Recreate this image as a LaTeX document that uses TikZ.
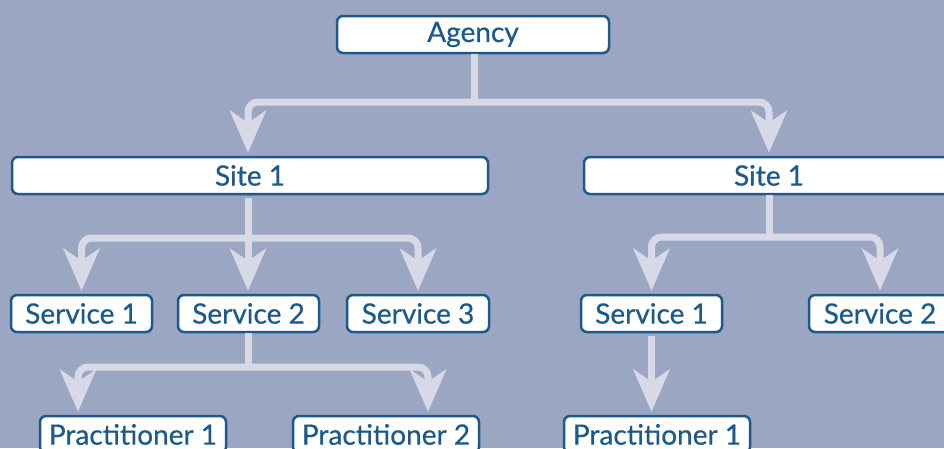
\documentclass[tikz,border=0pt]{standalone}
\usepackage{fontspec}
\setmainfont{Lato}
\newfontfamily\boxfont{Lato}[FakeBold=0.6]
\usetikzlibrary{arrows.meta}
\definecolor{bgc}{HTML}{9BA6C3}
\definecolor{linec}{HTML}{D7D9E6}
\definecolor{boxc}{HTML}{1D5A8C}
\tikzset{
  box/.style={draw=boxc, line width=2.5pt, fill=white, rounded corners=6pt,
    text=boxc, minimum height=37pt, inner sep=0pt, font=\boxfont\fontsize{28}{32}\selectfont},
  tipstyle/.style={Stealth[length=42pt, width=36pt, inset=12pt]},
  stem/.style={draw=linec, line width=7pt},
  conn/.style={draw=linec, line width=7pt, rounded corners=10pt,
    shorten >=3pt, shorten <=3pt},
  arr/.style={conn, -{Stealth[length=42pt, width=36pt, inset=12pt]}},
  arrs/.style={conn, {Stealth[length=42pt, width=36pt, inset=12pt]}-{Stealth[length=42pt, width=36pt, inset=12pt]}}
}
\begin{document}
\begin{tikzpicture}[x=1pt,y=-1pt]
\fill[bgc] (0,0) rectangle (944,448);
\useasboundingbox (0,0) rectangle (944,448);
\node[box, minimum width=272pt] (agency) at (473,34.5) {Agency};
\node[box, minimum width=476pt] (siteL) at (250,175.5) {Site 1};
\node[box, minimum width=370pt] (siteR) at (769,175.5) {Site 1};
\node[box, minimum width=141pt] (s1) at (81.5,313.5) {Service 1};
\node[box, minimum width=141pt] (s2) at (248.5,313.5) {Service 2};
\node[box, minimum width=142pt] (s3) at (418,313.5) {Service 3};
\node[box, minimum width=141pt] (rs1) at (651.5,313.5) {Service 1};
\node[box, minimum width=142pt] (rs2) at (880,313.5) {Service 2};
\node[box, minimum width=186pt] (p1) at (133,434.5) {Practitioner 1};
\node[box, minimum width=186pt] (p2) at (386,434.5) {Practitioner 2};
\node[box, minimum width=186pt] (rp1) at (657,434.5) {Practitioner 1};
\coordinate (j0) at (474,102);
\coordinate (j1) at (248,238);
\coordinate (j2) at (248.5,367);
\coordinate (j3) at (769,237);
% connectors
\draw[stem] ([xshift=1pt]agency.south) -- (j0);
\draw[arrs] ([xshift=-2pt]siteL.north) |- (j0) -| (siteR.north);
\draw[arr] ([xshift=-2pt]siteL.south) -- (s2.north -| j1);
\draw[arrs] (s1.north) |- (j1) -| (s3.north);
\draw[stem] (s2.south) -- (j2);
\draw[arrs] ([xshift=-55pt]p1.north) |- (j2) -| ([xshift=42pt]p2.north);
\draw[stem] (siteR.south) -- (j3);
\draw[arrs] (rs1.north) |- (j3) -| (rs2.north);
\draw[arr] (rs1.south) -- (rs1.south |- rp1.north);
\end{tikzpicture}
\end{document}
